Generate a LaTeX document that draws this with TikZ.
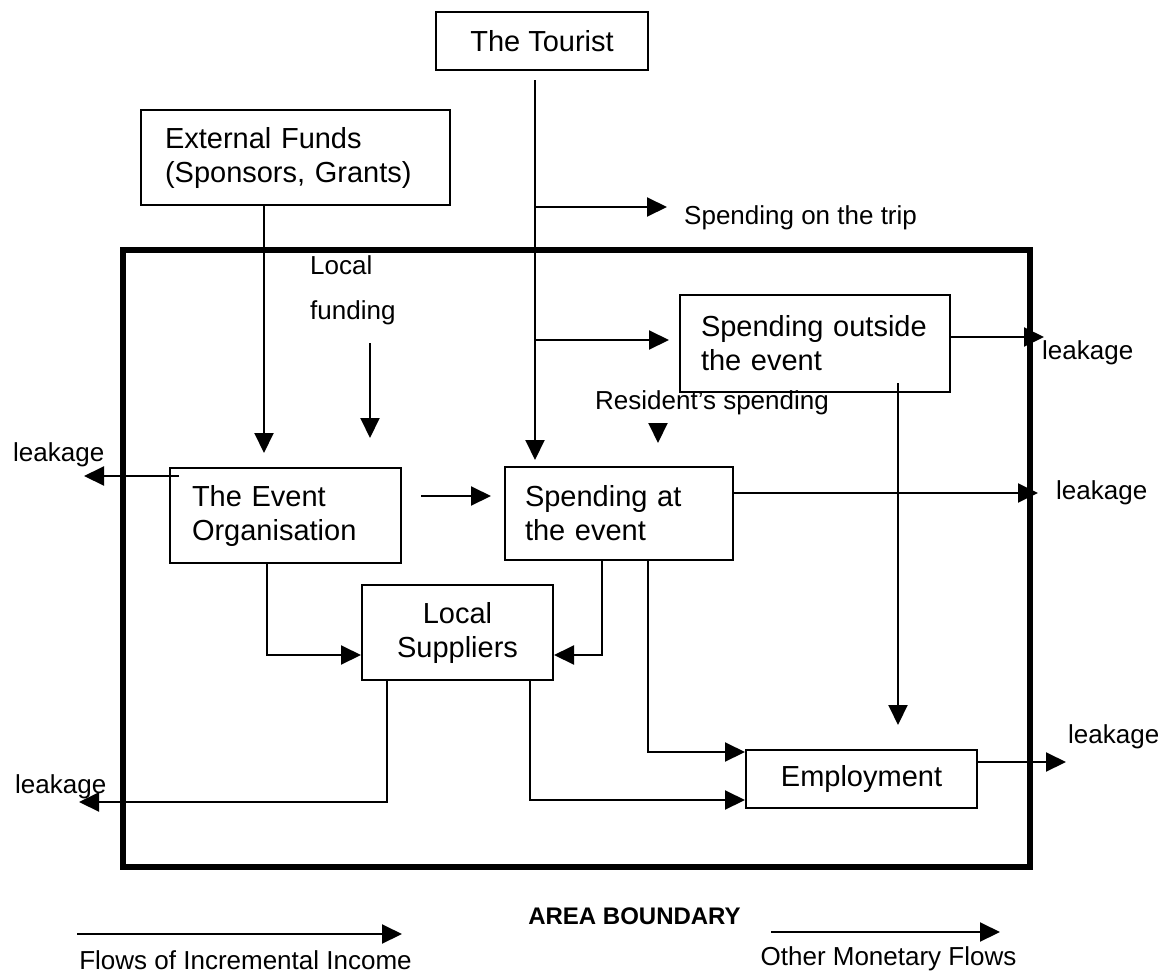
\documentclass[tikz,border=0pt]{standalone}
\usepackage{fontspec}
\setmainfont{Liberation Sans}
\usetikzlibrary{arrows.meta}
\begin{document}
\begin{tikzpicture}[x=1pt,y=-1pt,
  box/.style={draw, line width=2pt, inner ysep=0pt, font=\fontsize{29}{34}\selectfont},
  lbox/.style={box, align=left},
  cbox/.style={box, align=center},
  lbl/.style={inner sep=0pt, font=\fontsize{26}{30}\selectfont},
  flow/.style={line width=2pt, -{Triangle[length=20pt,width=19pt]}},
  boundary/.style={line width=6pt}
]
\useasboundingbox (0,0) rectangle (1164,977);

% area boundary
\draw[boundary] (123,250) rectangle (1030,867);

% boxes
\node[cbox, minimum width=212pt, minimum height=58pt] (tourist) at (542,41) {The Tourist};
\node[lbox, inner xsep=24pt, text width=261pt, minimum height=95pt] (ext) at (295.5,157.5)
  {External Funds\\(Sponsors, Grants)};
\node[lbox, inner xsep=21pt, text width=228pt, minimum height=97pt] (spout) at (815,343.5)
  {Spending outside\\the event};
\node[lbox, inner xsep=22pt, text width=187pt, minimum height=95pt] (org) at (285.5,515.5)
  {The Event\\Organisation};
\node[lbox, inner xsep=20pt, text width=188pt, minimum height=93pt] (spat) at (619,513.5)
  {Spending at\\the event};
\node[cbox, minimum width=191pt, minimum height=95pt] (sup) at (457.5,632.5)
  {Local\\Suppliers};
\node[cbox, minimum width=231pt, minimum height=58pt] (emp) at (861.5,779) {Employment};

% labels
\node[lbl, anchor=west] (trip) at (684,218) {Spending on the trip};
\node[lbl, anchor=west, align=left, font=\fontsize{26}{45}\selectfont] (locfund) at (310,290) {Local\\funding};
\node[lbl] (resid) at (712,403) {Resident's spending};
\node[lbl, anchor=west] (leakA) at (1042,353) {leakage};
\node[lbl, anchor=west] (leakB) at (1056,493) {leakage};
\node[lbl, anchor=west] (leakC) at (13,455) {leakage};
\node[lbl, anchor=west] (leakD) at (15,787) {leakage};
\node[lbl, anchor=west] (leakE) at (1068,737) {leakage};
\node[lbl, font=\bfseries\fontsize{24}{28}\selectfont] (area) at (634.5,916) {AREA BOUNDARY};
\node[lbl] (legA) at (245.5,960) {Flows of Incremental Income};
\node[lbl] (legB) at (888.5,959) {Other Monetary Flows};

% connector end points
\coordinate (extEnd) at (264,453);
\coordinate (lfTop) at (370,343);
\coordinate (lfEnd) at (370,438);
\coordinate (tEnd) at (535,460);
\coordinate (tripEnd) at (667,207);
\coordinate (spoutIn) at (669,340);
\coordinate (leakAEnd) at (1044,337);
\coordinate (downEnd) at (898,725);
\coordinate (resTop) at (658,423);
\coordinate (resEnd) at (658,443);
\coordinate (leakBEnd) at (1038,493);
\coordinate (leakCEnd) at (84,476);
\coordinate (osRow) at (420,496);
\coordinate (orgBend) at (267,655);
\coordinate (spatBendA) at (602,655);
\coordinate (spatBendB) at (648,752);
\coordinate (supBendA) at (387,802);
\coordinate (leakDEnd) at (79,802);
\coordinate (supBendB) at (530,800);
\coordinate (leakEEnd) at (1066,762);
\coordinate (legAStart) at (77,934);
\coordinate (legAEnd) at (402,934);
\coordinate (legBStart) at (771,932);
\coordinate (legBEnd) at (1000,932);

% flows from outside
\draw[flow] (ext.south -| extEnd) -- (extEnd);
\draw[flow] (lfTop) -- (lfEnd);
\draw[flow] ([yshift=-9pt]tourist.south -| tEnd) -- (tEnd);
\draw[flow] (tEnd |- tripEnd) -- (tripEnd);
\draw[flow] (tEnd |- spoutIn) -- (spoutIn);
\draw[flow] (resTop) -- (resEnd);

% flows inside the area
\draw[flow] (spout.east |- leakAEnd) -- (leakAEnd);
\draw[flow] ([yshift=10pt]spout.south -| downEnd) -- (downEnd);
\draw[flow] (spat.east |- leakBEnd) -- (leakBEnd);
\draw[flow] ([xshift=10pt]org.west |- leakCEnd) -- (leakCEnd);
\draw[flow] ([xshift=19pt]org.east |- osRow) -- ([xshift=-13pt]spat.west |- osRow);
\draw[flow] (org.south -| orgBend) -- (orgBend) -- (sup.west |- orgBend);
\draw[flow] (spat.south -| spatBendA) -- (spatBendA) -- (sup.east |- spatBendA);
\draw[flow] (spat.south -| spatBendB) -- (spatBendB) -- (emp.west |- spatBendB);
\draw[flow] (sup.south -| supBendA) -- (supBendA) -- (leakDEnd);
\draw[flow] (sup.south -| supBendB) -- (supBendB) -- (emp.west |- supBendB);
\draw[flow] (emp.east |- leakEEnd) -- (leakEEnd);

% legend
\draw[flow] (legAStart) -- (legAEnd);
\draw[flow] (legBStart) -- (legBEnd);
\end{tikzpicture}
\end{document}
